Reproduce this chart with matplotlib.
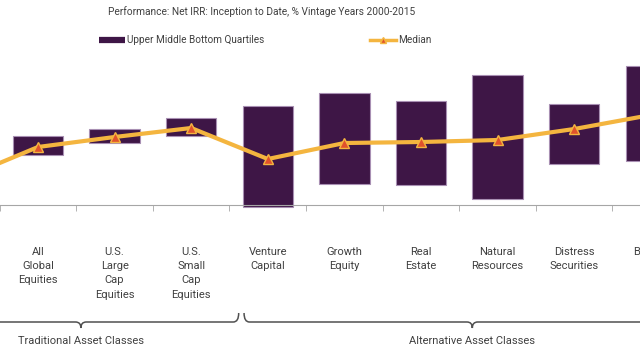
import numpy as np
import matplotlib.pyplot as plt
import matplotlib.transforms as mtransforms
from matplotlib.path import Path
from matplotlib.patches import PathPatch
from matplotlib.lines import Line2D

plt.rcParams['font.family'] = ['Roboto', 'DejaVu Sans']

# the source picture is a crop of a wider chart: first and last categories are partly cut off
categories = ["", "All\nGlobal\nEquities", "U.S.\nLarge\nCap\nEquities",
              "U.S.\nSmall\nCap\nEquities", "Venture\nCapital", "Growth\nEquity",
              "Real\nEstate", "Natural\nResources", "Distress\nSecurities", "Buyout"]
upper = [None, 6.9, 7.6, 8.7, 9.9, 11.2, 10.4, 13.0, 10.1, 13.9]
lower = [None, 5.0, 6.2, 6.9, -0.2, 2.1, 2.0, 0.6, 4.1, 4.4]
median = [2.6, 5.8, 6.8, 7.7, 4.6, 6.2, 6.3, 6.5, 7.6, 9.0]

groups = ["Traditional Asset Classes", "Alternative Asset Classes"]
group_span = [(-0.5, 1.56, 3.62), (3.69, 6.67, 9.65)]  # start, centre, end

PURPLE = "#3e1646"
EDGE = "#a88fb3"
ORANGE = "#f4b53f"
RED = "#e0522c"
TEXT = "#404040"

fig = plt.figure(figsize=(6.4, 3.6), dpi=100)
ax = fig.add_axes([-76.9 / 640, 1 - 205 / 360, 766 / 640, 150 / 360])

x = np.arange(len(categories))
for i in x:
    if upper[i] is None:
        continue
    ax.bar(i, upper[i] - lower[i], bottom=lower[i], width=0.66,
           color=PURPLE, edgecolor=EDGE, linewidth=0.8, clip_on=False, zorder=2)

ax.plot(x, median, color=ORANGE, lw=3, zorder=3, clip_on=False)
ax.plot(x, median, ls="none", marker="^", ms=7, mfc=RED, mec=ORANGE, mew=1, zorder=4)

ax.set_xlim(-0.5, len(categories) - 0.5)
ax.set_ylim(0, 15)
for s in ["top", "left", "right"]:
    ax.spines[s].set_visible(False)
ax.spines["bottom"].set_color("#a6a6a6")
ax.set_yticks([])
ax.set_xticks(x)
ax.set_xticklabels(categories, fontsize=8, color=TEXT, linespacing=1.55, va="top")
ax.tick_params(axis="x", which="major", length=0, pad=30)
ax.set_xticks(x[:-1] + 0.5, minor=True)
ax.tick_params(axis="x", which="minor", length=4, color="#a6a6a6")

# braces under the group of categories
trans = mtransforms.blended_transform_factory(ax.transData, fig.transFigure)
y_line = 1 - 322 / 360
y_end = 1 - 313 / 360
y_tip = 1 - 328 / 360
r = 0.07
for name, (x0, xc, x1) in zip(groups, group_span):
    verts = [(x0, y_end), (x0, y_line), (x0 + r, y_line),
             (xc - r, y_line), (xc, y_line), (xc, y_tip),
             (xc, y_line), (xc + r, y_line),
             (x1 - r, y_line), (x1, y_line), (x1, y_end)]
    codes = [Path.MOVETO, Path.CURVE3, Path.CURVE3,
             Path.LINETO, Path.CURVE3, Path.CURVE3,
             Path.CURVE3, Path.CURVE3,
             Path.LINETO, Path.CURVE3, Path.CURVE3]
    ax.add_patch(PathPatch(Path(verts, codes), transform=trans, fill=False,
                           edgecolor="#505050", lw=1.1, clip_on=False))
    ax.text(xc, 1 - 341 / 360, name, transform=trans, ha="center", va="center",
            fontsize=8, color=TEXT)

fig.text(262 / 640, 1 - 12 / 360,
         "Performance: Net IRR: Inception to Date, % Vintage Years 2000-2015",
         ha="center", va="center", fontsize=7.3, color=TEXT)

handles = [Line2D([], [], color=PURPLE, lw=4.5, solid_capstyle="butt"),
           Line2D([], [], color=ORANGE, lw=2.5, marker="^", ms=5, mfc=RED, mec=ORANGE)]
fig.legend(handles, ["Upper Middle Bottom Quartiles", "Median"], ncol=2,
           loc="center left", bbox_to_anchor=(99 / 640, 1 - 40 / 360),
           frameon=False, fontsize=7.2, labelcolor=TEXT, handlelength=2.6,
           handletextpad=0.2, columnspacing=10.6, borderpad=0, borderaxespad=0)

fig.savefig("out.png", dpi=100)
